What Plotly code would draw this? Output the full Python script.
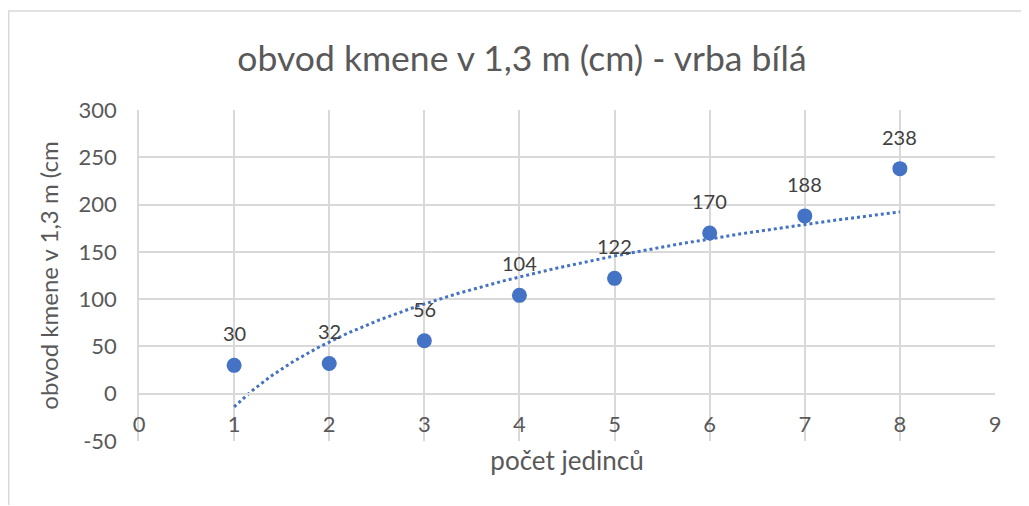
import numpy as np
import plotly.graph_objects as go

x_vals = [1, 2, 3, 4, 5, 6, 7, 8]
y_vals = [30, 32, 56, 104, 122, 170, 188, 238]
x_ticks = [0, 1, 2, 3, 4, 5, 6, 7, 8, 9]
y_ticks = [-50, 0, 50, 100, 150, 200, 250, 300]

title_text = "obvod kmene v 1,3 m (cm) - vrba bílá"
x_title = "počet jedinců"
y_title = "obvod kmene v 1,3 m (cm"

BLUE = "#4472C4"
GRID = "#d9d9d9"
FONT = "Lato"
TXT = "#595959"

# logarithmic trendline (least squares fit, like Excel)
a, b = np.polyfit(np.log(x_vals), y_vals, 1)
xt = np.linspace(min(x_vals), max(x_vals), 300)
yt = a * np.log(xt) + b

fig = go.Figure()
fig.add_trace(go.Scatter(x=xt, y=yt, mode="lines",
                         line=dict(color=BLUE, width=3, dash="dot"),
                         hoverinfo="skip", showlegend=False))
fig.add_trace(go.Scatter(x=x_vals, y=y_vals, mode="markers",
                         marker=dict(color=BLUE, size=15),
                         showlegend=False))

for xv, yv in zip(x_vals, y_vals):
    fig.add_annotation(x=xv, y=yv, text=str(yv), showarrow=False,
                       yshift=32, font=dict(family=FONT, size=20, color="#404040"))

W, H = 1021, 497
L, R, T, B = 131, 34, 102, 64
pw, ph = W - L - R, H - T - B

def px2paper_x(px):
    return (px - L) / pw

def px2paper_y(py):
    return (H - B - py) / ph

fig.add_shape(type="rect", xref="paper", yref="paper",
              x0=px2paper_x(0.75), x1=px2paper_x(1060),
              y0=px2paper_y(540), y1=px2paper_y(3),
              line=dict(color=GRID, width=1.5), fillcolor="rgba(0,0,0,0)",
              layer="below")

y_min, y_max = y_ticks[0], y_ticks[-1]

fig.update_layout(
    width=W, height=H,
    margin=dict(l=L, r=R, t=T, b=B, autoexpand=False),
    paper_bgcolor="white", plot_bgcolor="white",
    font=dict(family=FONT, color=TXT),
    title=dict(text=title_text, x=514 / W, xanchor="center", y=1 - 51 / H, yanchor="middle",
               font=dict(family=FONT, size=35.5, color=TXT)),
    xaxis=dict(range=[0, 9], tickvals=x_ticks, ticktext=[str(v) for v in x_ticks],
               anchor="free", position=(0 - y_min) / (y_max - y_min),
               automargin=False,
               showgrid=True, gridcolor=GRID, gridwidth=1.5,
               zeroline=True, zerolinecolor=GRID, zerolinewidth=1.5,
               showline=True, linecolor=GRID, linewidth=1.5,
               ticks="", ticklabelstandoff=11,
               tickfont=dict(family=FONT, size=22, color=TXT),
               title=dict(text=x_title, font=dict(family=FONT, size=26, color=TXT),
                          standoff=15)),
    yaxis=dict(range=[y_min, y_max], tickvals=y_ticks, ticktext=[str(v) for v in y_ticks],
               automargin=False,
               showgrid=True, gridcolor=GRID, gridwidth=1.5,
               zeroline=True, zerolinecolor=GRID, zerolinewidth=1.5,
               showline=True, linecolor=GRID, linewidth=1.5,
               ticks="", ticklabelstandoff=16,
               tickfont=dict(family=FONT, size=22, color=TXT),
               title=dict(text=y_title, font=dict(family=FONT, size=24, color=TXT),
                          standoff=13)),
)

fig.write_html("out.html")
